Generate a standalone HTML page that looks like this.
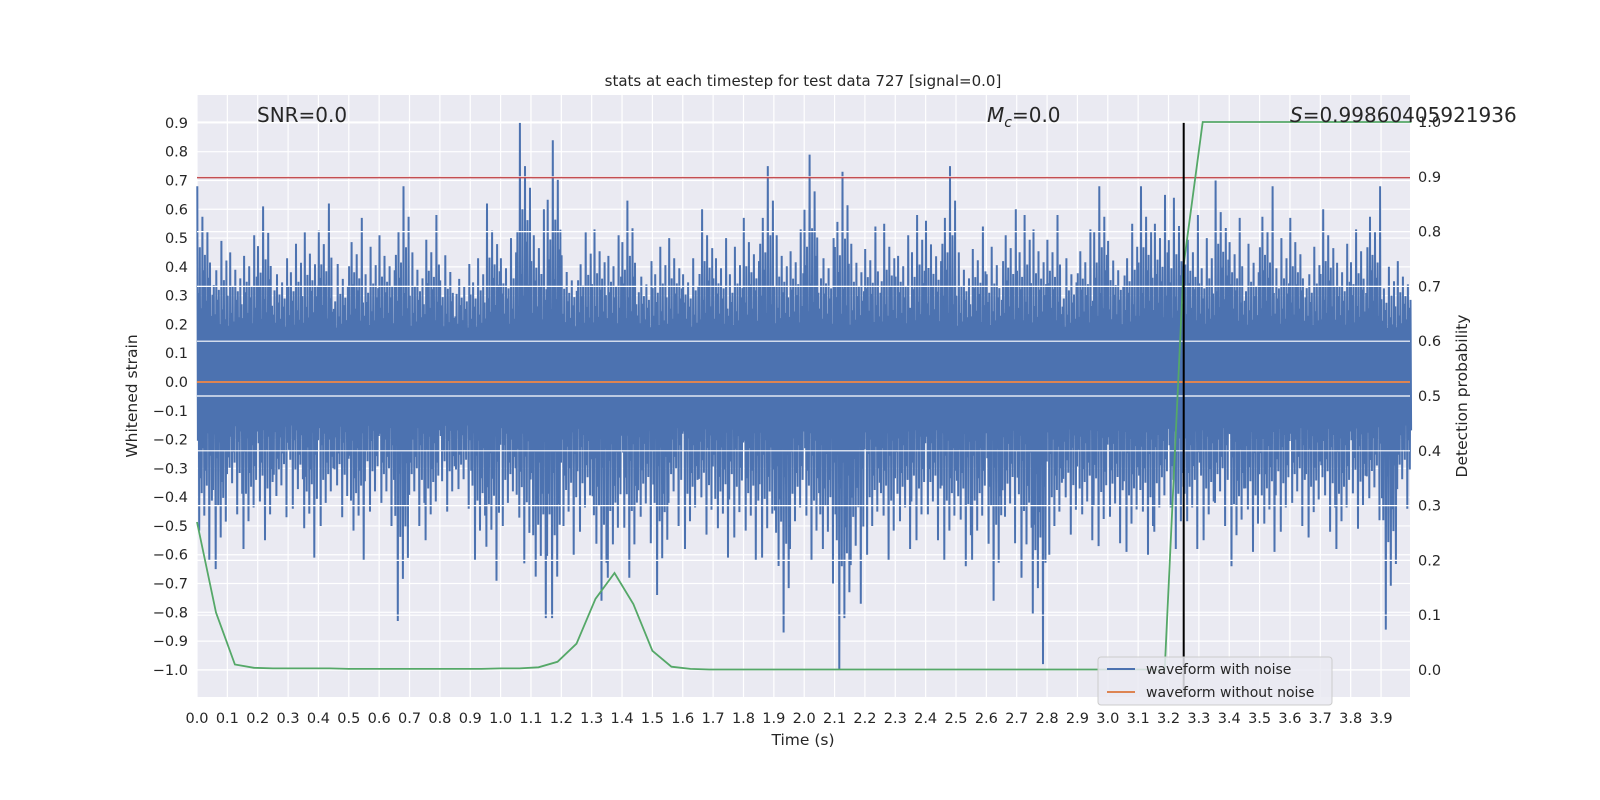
<!DOCTYPE html>
<html><head><meta charset="utf-8"><style>
html,body{margin:0;padding:0;background:#fff;}
svg{display:block;font-family:"DejaVu Sans","Liberation Sans",sans-serif;}
</style></head><body>
<svg id="chart" width="1600" height="800" viewBox="0 0 1600 800">
<rect x="0" y="0" width="1600" height="800" fill="#ffffff"/>
<rect x="197" y="95" width="1213" height="602" fill="#eaeaf2"/>
<g id="gridL"></g>
<g id="gridX"></g>
<g id="noise"></g>
<g id="gridR"></g>
<line x1="197" x2="1410" id="zeroLine" stroke="#dd8452" stroke-width="2"/>
<line x1="197" x2="1410" id="thrLine" stroke="#c44e52" stroke-width="1.5"/>
<polyline id="prob" fill="none" stroke="#55a868" stroke-width="1.8"/>
<line id="vline" y1="122" y2="697" stroke="#000" stroke-width="2"/>
<g id="xt" font-size="14.5" fill="#262626" text-anchor="middle"></g>
<g id="ytl" font-size="14.5" fill="#262626" text-anchor="end"></g>
<g id="ytr" font-size="14.5" fill="#262626" text-anchor="start"></g>
<text x="803" y="86" font-size="15" fill="#262626" text-anchor="middle">stats at each timestep for test data 727 [signal=0.0]</text>
<text x="803" y="745" font-size="15.5" fill="#262626" text-anchor="middle">Time (s)</text>
<text transform="translate(137,396) rotate(-90)" font-size="15.5" fill="#262626" text-anchor="middle">Whitened strain</text>
<text transform="translate(1467,396) rotate(-90)" font-size="15.5" fill="#262626" text-anchor="middle">Detection probability</text>
<text x="257" y="122" font-size="20" fill="#262626">SNR=0.0</text>
<text x="987" y="122" font-size="20" fill="#262626"><tspan font-style="italic">M</tspan><tspan font-style="italic" font-size="14" dy="5">c</tspan><tspan dy="-5">=0.0</tspan></text>
<text x="1290" y="122" font-size="20" fill="#262626"><tspan font-style="italic">S</tspan>=0.99860405921936</text>
<g>
<rect x="1098" y="657" width="234" height="48" rx="3" fill="#eaeaf2" fill-opacity="0.85" stroke="#cccccc"/>
<line x1="1107" x2="1135" y1="669" y2="669" stroke="#4c72b0" stroke-width="2"/>
<text x="1146" y="674" font-size="14" fill="#262626">waveform with noise</text>
<line x1="1107" x2="1135" y1="692" y2="692" stroke="#dd8452" stroke-width="2"/>
<text x="1146" y="697" font-size="14" fill="#262626">waveform without noise</text>
</g>
</svg>
<script>
const binWidth = 0.05;
const noisePeakHi = [0.68,0.49,0.45,0.51,0.61,0.43,0.48,0.52,0.62,0.41,0.57,0.47,0.51,0.68,0.45,0.58,0.44,0.41,0.43,0.62,0.50,0.90,0.60,0.84,0.44,0.52,0.53,0.51,0.63,0.42,0.47,0.50,0.43,0.60,0.50,0.47,0.57,0.75,0.51,0.53,0.79,0.50,0.73,0.48,0.54,0.55,0.51,0.58,0.56,0.75,0.45,0.54,0.47,0.60,0.58,0.53,0.58,0.43,0.53,0.68,0.49,0.55,0.68,0.65,0.64,0.58,0.50,0.70,0.57,0.48,0.68,0.50,0.57,0.47,0.60,0.48,0.53,0.68,0.40,0.42];
const noisePeakLo = [-0.62,-0.65,-0.46,-0.58,-0.55,-0.47,-0.44,-0.61,-0.50,-0.47,-0.62,-0.45,-0.50,-0.83,-0.50,-0.55,-0.45,-0.44,-0.62,-0.69,-0.50,-0.63,-0.82,-0.82,-0.60,-0.52,-0.76,-0.68,-0.68,-0.56,-0.74,-0.50,-0.58,-0.53,-0.61,-0.54,-0.62,-0.61,-0.87,-0.58,-0.62,-0.70,-1.00,-0.77,-0.60,-0.62,-0.58,-0.55,-0.55,-0.62,-0.64,-0.62,-0.76,-0.56,-0.68,-0.98,-0.60,-0.53,-0.55,-0.57,-0.56,-0.59,-0.60,-0.52,-0.58,-0.58,-0.55,-0.50,-0.64,-0.59,-0.59,-0.52,-0.50,-0.54,-0.52,-0.58,-0.51,-0.48,-0.86,-0.44];
const probStep = 0.0625;
const probValues = [0.27,0.105,0.01,0.004,0.003,0.003,0.003,0.003,0.002,0.002,0.002,0.002,0.002,0.002,0.002,0.002,0.003,0.003,0.005,0.015,0.048,0.13,0.177,0.12,0.035,0.006,0.002,0.001,0.001,0.001,0.001,0.001,0.001,0.001,0.001,0.001,0.001,0.001,0.001,0.001,0.001,0.001,0.001,0.001,0.001,0.001,0.001,0.001,0.001,0.001,0.001,0.0,0.74,1.0,1.0,1.0,1.0,1.0,1.0,1.0,1.0,1.0,1.0,1.0,1.0];
const cleanValue = 0.0;
const thresholdValue = 0.71;
const detectionTime = 3.25;
const xTicks = [0.0,0.1,0.2,0.3,0.4,0.5,0.6,0.7,0.8,0.9,1.0,1.1,1.2,1.3,1.4,1.5,1.6,1.7,1.8,1.9,2.0,2.1,2.2,2.3,2.4,2.5,2.6,2.7,2.8,2.9,3.0,3.1,3.2,3.3,3.4,3.5,3.6,3.7,3.8,3.9];
const yTicksL = [-1.0,-0.9,-0.8,-0.7,-0.6,-0.5,-0.4,-0.3,-0.2,-0.1,0.0,0.1,0.2,0.3,0.4,0.5,0.6,0.7,0.8,0.9];
const yTicksR = [0.0,0.1,0.2,0.3,0.4,0.5,0.6,0.7,0.8,0.9,1.0];
const texture = [1,0.3,0.6,0.2,0.8,0.45,0.55,0.25,0.7,0.4,0.5,0.15];

const NS='http://www.w3.org/2000/svg';
const X0=197,X1=1410,Y0=95,Y1=697;
const xs=t=>197+t*303.6;
const yL=v=>382-v*287.9;
const yR=p=>670-p*548;
function mk(tag,parent,attrs){const e=document.createElementNS(NS,tag);for(const k in attrs)e.setAttribute(k,attrs[k]);parent.appendChild(e);return e;}
const fmt=v=>(v<0?'\u2212':'')+Math.abs(v).toFixed(1);

const gL=document.getElementById('gridL'),gX=document.getElementById('gridX'),gR=document.getElementById('gridR');
yTicksL.forEach(v=>{const l=mk('line',gL,{x1:X0,x2:X1,y1:yL(v),y2:yL(v),stroke:'#fff','stroke-width':1.2});

});
xTicks.forEach(v=>{const l=mk('line',gX,{x1:xs(v),x2:xs(v),y1:Y0,y2:Y1,stroke:'#fff','stroke-width':1.2});

});
yTicksR.forEach(v=>{const l=mk('line',gR,{x1:X0,x2:X1,y1:yR(v),y2:yR(v),stroke:'#fff','stroke-width':1.2});

});

const gN=document.getElementById('noise');
let pts=[];
const per=12;
noisePeakHi.forEach((hi,i)=>{
  const lo=noisePeakLo[i];
  for(let k=0;k<per;k++){
    const t=i*binWidth+(k+0.5)*binWidth/per;
    const m=texture[(k+i*5)%texture.length];
    const up=0.15+(hi-0.15)*m;
    const dn=-0.1+(lo+0.1)*texture[(k+i*7+3)%texture.length];
    pts.push(xs(t-binWidth/per*0.25).toFixed(1)+','+yL(up).toFixed(1));
    pts.push(xs(t+binWidth/per*0.25).toFixed(1)+','+yL(dn).toFixed(1));
  }
});
const pl=mk('polyline',gN,{points:pts.join(' '),fill:'none',stroke:'#4c72b0','stroke-width':2,'stroke-linejoin':'miter'});



document.getElementById('zeroLine').setAttribute('y1',yL(cleanValue));
document.getElementById('zeroLine').setAttribute('y2',yL(cleanValue));
document.getElementById('thrLine').setAttribute('y1',yL(thresholdValue));
document.getElementById('thrLine').setAttribute('y2',yL(thresholdValue));
document.getElementById('vline').setAttribute('x1',xs(detectionTime));
document.getElementById('vline').setAttribute('x2',xs(detectionTime));
document.getElementById('vline').setAttribute('y1',yL(0.9));
document.getElementById('prob').setAttribute('points',probValues.map((p,i)=>xs(Math.min(i*probStep,4.0)).toFixed(1)+','+yR(p).toFixed(1)).join(' '));

const gxt=document.getElementById('xt');
xTicks.forEach(v=>{const t=mk('text',gxt,{x:xs(v),y:723});t.textContent=v.toFixed(1);

});
const gyl=document.getElementById('ytl');
yTicksL.forEach(v=>{const t=mk('text',gyl,{x:188,y:yL(v)+5});t.textContent=fmt(v);

});
const gyr=document.getElementById('ytr');
yTicksR.forEach(v=>{const t=mk('text',gyr,{x:1418,y:yR(v)+5});t.textContent=v.toFixed(1);

});
</script>
</body></html>
